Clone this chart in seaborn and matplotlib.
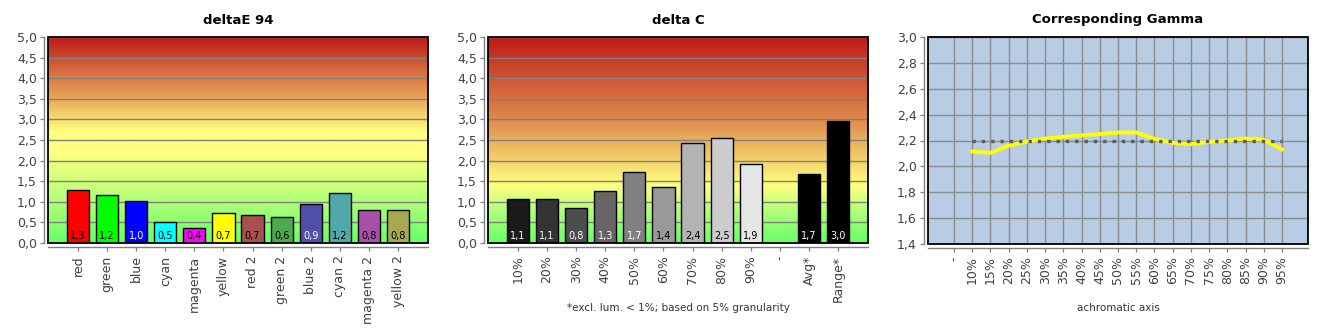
import numpy as np
import pandas as pd
import matplotlib
matplotlib.use("Agg")
import matplotlib.pyplot as plt
import seaborn as sns
from matplotlib.colors import LinearSegmentedColormap
from matplotlib.patches import Rectangle
from matplotlib.ticker import FuncFormatter, MultipleLocator

# ---------------- data ----------------
de_categories = ["red", "green", "blue", "cyan", "magenta", "yellow",
                 "red 2", "green 2", "blue 2", "cyan 2", "magenta 2", "yellow 2"]
de_values = [1.28, 1.16, 1.03, 0.51, 0.36, 0.72, 0.68, 0.64, 0.94, 1.21, 0.80, 0.80]

dc_categories = ["10%", "20%", "30%", "40%", "50%", "60%", "70%", "80%", "90%",
                 "-", "Avg*", "Range*"]
dc_values = [1.08, 1.08, 0.84, 1.26, 1.72, 1.36, 2.42, 2.54, 1.91, np.nan, 1.67, 2.96]

gamma_labels = ["-", "10%", "15%", "20%", "25%", "30%", "35%", "40%", "45%", "50%",
                "55%", "60%", "65%", "70%", "75%", "80%", "85%", "90%", "95%"]
gamma_values = [np.nan, 2.115, 2.105, 2.160, 2.192, 2.215, 2.228, 2.240, 2.250, 2.262,
                2.262, 2.212, 2.182, 2.172, 2.190, 2.200, 2.215, 2.205, 2.132]
gamma_target = 2.2

# ---------------- styles ----------------
de_colors = ["#FF0000", "#00FF00", "#0000FF", "#00FFFF", "#FF00FF", "#FFFF00",
             "#A85050", "#50A850", "#5050A8", "#50A8A8", "#A850A8", "#A8A850"]
de_text_colors = ["black", "black", "white", "black", "black", "black",
                  "black", "black", "white", "black", "black", "black"]
dc_colors = ["#1A1A1A", "#333333", "#4D4D4D", "#666666", "#808080", "#999999",
             "#B3B3B3", "#CCCCCC", "#E6E6E6", "#FFFFFF", "#000000", "#000000"]
dc_text_colors = ["white", "white", "white", "white", "white", "black",
                  "black", "black", "black", "black", "white", "white"]

grad1 = [(0.0, "#66FF66"), (0.2, "#B0FF78"), (0.44, "#FFFF80"), (0.54, "#FFFF80"),
         (0.70, "#E8A858"), (0.84, "#D66A3E"), (1.0, "#BE1818")]
grad2 = [(0.0, "#66FF66"), (0.14, "#A8FF78"), (0.28, "#FFFF80"), (0.60, "#DE8A4C"),
         (0.80, "#CF5533"), (1.0, "#BE1818")]

W, H = 1330, 330
FONT = "DejaVu Sans"
plt.rcParams["font.family"] = [FONT]

fig = plt.figure(figsize=(W / 100, H / 100), dpi=100)


def px_axes(left, top, width, height):
    return fig.add_axes([left / W, (H - top - height) / H, width / W, height / H])


comma = FuncFormatter(lambda v, p: f"{v:.1f}".replace(".", ","))


def style(ax, ylim, step, title, xlabel=None):
    ax.set_ylim(*ylim)
    ax.yaxis.set_major_locator(MultipleLocator(step))
    ax.yaxis.set_major_formatter(comma)
    for s in ["top", "right"]:
        ax.spines[s].set_visible(False)
    for s in ["left", "bottom"]:
        ax.spines[s].set_position(("outward", 3))
        ax.spines[s].set_color("#808080")
        ax.spines[s].set_linewidth(1.0)
    ax.tick_params(axis="both", direction="out", length=3, width=0.9,
                   color="#808080", labelcolor="#404040", labelsize=9, pad=2)
    ax.tick_params(axis="x", labelrotation=90, pad=3)
    ax.set_xlabel("")
    ax.set_ylabel("")
    ax.add_patch(Rectangle((0, 0), 1, 1, transform=ax.transAxes, fill=False,
                           ec="black", lw=1.3, zorder=6, clip_on=False))
    bb = ax.get_position()
    fig.text((bb.x0 + bb.x1) / 2, (H - 20) / H, title, ha="center", va="center",
             fontsize=9.5, fontweight="bold", color="black")
    if xlabel:
        fig.text((bb.x0 + bb.x1) / 2, (H - 308) / H, xlabel, ha="center",
                 va="center", fontsize=7.5, color="#333333")


def bar_panel(ax, cats, vals, colors, tcolors, grad, title, xlabel=None):
    df = pd.DataFrame({"cat": cats, "val": vals})
    cmap = LinearSegmentedColormap.from_list("g", grad, N=1024)
    xl = (-1.03, len(cats) - 1 + 1.03)
    ax.imshow(np.linspace(0, 1, 1024).reshape(-1, 1), extent=[xl[0], xl[1], 0, 5],
              aspect="auto", origin="lower", cmap=cmap, zorder=-2,
              interpolation="bilinear", interpolation_stage="rgba")
    sns.barplot(data=df, x="cat", y="val", hue="cat", order=cats, hue_order=cats,
                palette=dict(zip(cats, colors)), legend=False, errorbar=None,
                edgecolor="black", linewidth=1.0, width=0.76, saturation=1,
                ax=ax, zorder=2)
    ax.set_xlim(*xl)
    ax.set_axisbelow(True)
    ax.yaxis.grid(True, color="#808080", lw=1.0, zorder=1)
    for i, (v, tc) in enumerate(zip(vals, tcolors)):
        if np.isnan(v):
            continue
        ax.annotate(f"{v:.1f}".replace(".", ","), xy=(i, 0), xytext=(0, 5),
                    textcoords="offset points", ha="center", va="center",
                    fontsize=7, color=tc, zorder=4)
    style(ax, (0, 5), 0.5, title, xlabel)


ax1 = px_axes(48, 37, 380, 206)
bar_panel(ax1, de_categories, de_values, de_colors, de_text_colors, grad1,
          "deltaE 94")

ax2 = px_axes(488, 37, 380, 206)
bar_panel(ax2, dc_categories, dc_values, dc_colors, dc_text_colors, grad2,
          "delta C", "*excl. lum. < 1%; based on 5% granularity")

# ---------------- gamma panel ----------------
ax3 = px_axes(928, 37, 380, 207)
ax3.set_facecolor("#B8CCE4")
pos = np.arange(len(gamma_labels))
gdf = pd.DataFrame({"pos": pos, "gamma": gamma_values,
                    "target": [np.nan] + [gamma_target] * (len(gamma_labels) - 1)})
gdf = gdf.dropna()
sns.lineplot(data=gdf, x="pos", y="gamma", color="#FFFF00", lw=2.8, ax=ax3,
             zorder=3)
sns.lineplot(data=gdf, x="pos", y="target", color="#5A5A5A", lw=2.4, ax=ax3,
             zorder=4, linestyle=(0, (1.0, 1.8)), dash_capstyle="butt")
ax3.set_xticks(pos)
ax3.set_xticklabels(gamma_labels)
ax3.set_xlim(-1.43, len(gamma_labels) - 1 + 1.43)
ax3.set_axisbelow(True)
ax3.grid(True, color="#8C8C8C", lw=1.0)
style(ax3, (1.4, 3.0), 0.2, "Corresponding Gamma", "achromatic axis")

fig.savefig("out.png", dpi=100)
